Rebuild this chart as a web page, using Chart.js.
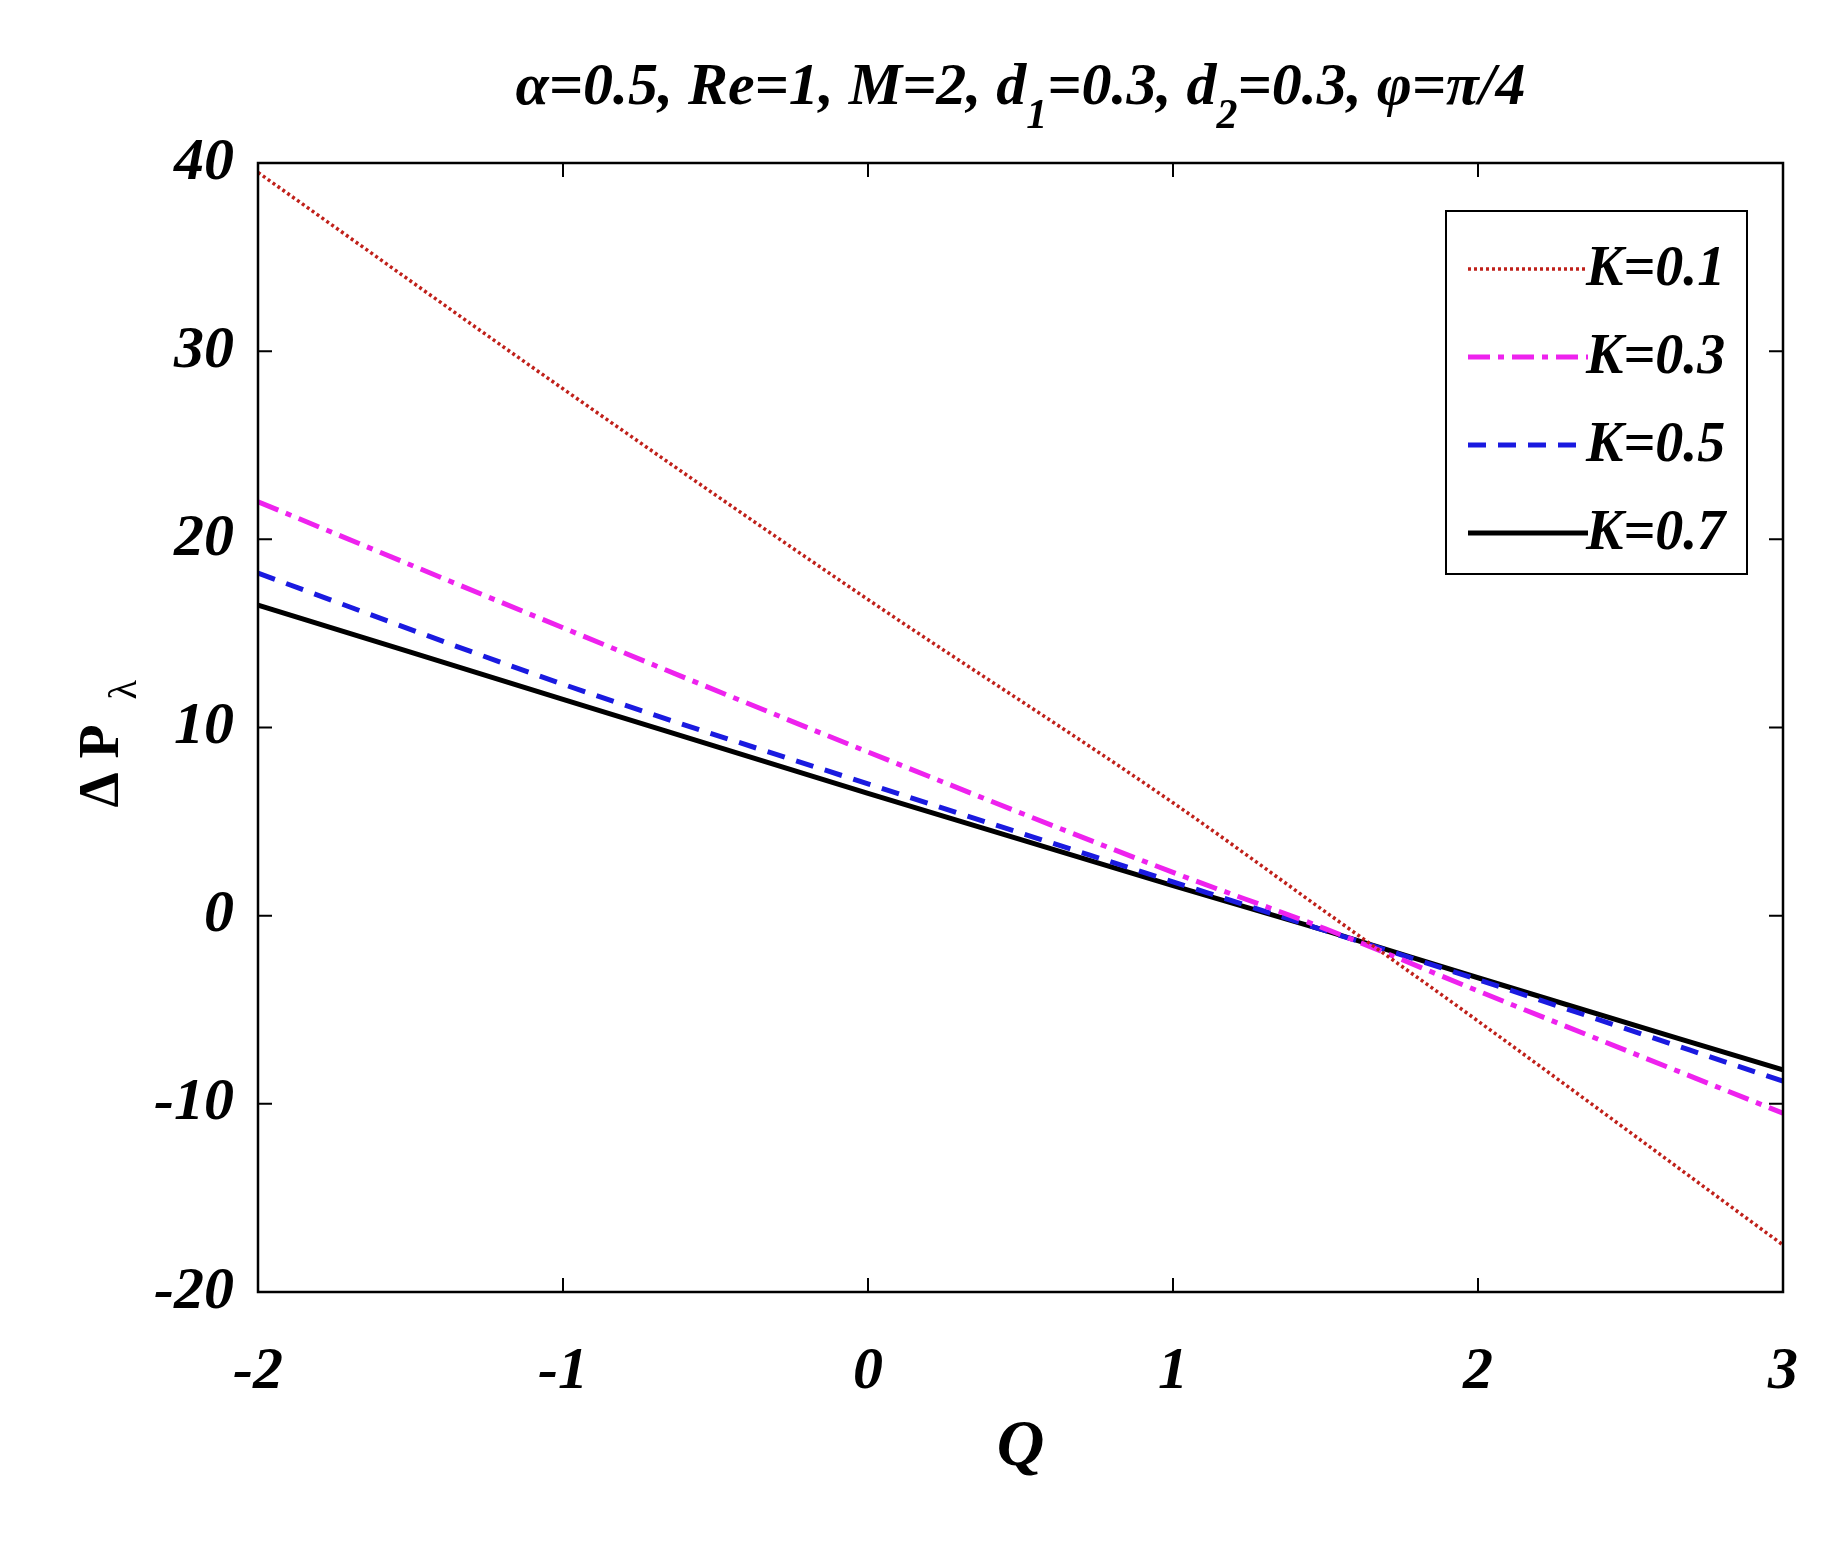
<!DOCTYPE html>
<html><head><meta charset="utf-8">
<script src="https://cdn.jsdelivr.net/npm/chart.js@4.4.1/dist/chart.umd.min.js"></script>
<style>html,body{margin:0;padding:0;background:#fff}#wrap{width:1834px;height:1541px}</style>
</head><body><div id="wrap"><canvas id="c"></canvas></div>
<script>
// Data
const qValues = [-2, -1, 0, 1, 1.5, 2, 3];
const seriesK01 = [39.5, 28, 16.8, 6.0, 0.2, -5.6, -17.5];
const seriesK03 = [22, 15.3, 8.7, 2.3, -0.7, -4, -10.5];
const seriesK05 = [18.2, 12.3, 7, 1.8, -0.8, -3.4, -8.8];
const seriesK07 = [16.5, 11.5, 6.5, 1.6, -0.8, -3.3, -8.2];
const labels = ['K=0.1', 'K=0.3', 'K=0.5', 'K=0.7'];
const colors = ['#c0201a', '#ee22ee', '#1a1ae0', '#000000'];
const dashes = [[3, 3], [22, 8, 6, 8], [18, 12], []];
const widths = [3.5, 5, 5, 5];
const xTicks = [-2, -1, 0, 1, 2, 3];
const yTicks = [-20, -10, 0, 10, 20, 30, 40];

const FONT = '"Liberation Serif", "DejaVu Serif", serif';
const allSeries = [seriesK01, seriesK03, seriesK05, seriesK07];

const boxPlugin = {
  id: 'box',
  afterDraw(chart) {
    const {ctx, chartArea: a, scales: {x, y}} = chart;
    ctx.save();
    ctx.strokeStyle = '#000'; ctx.lineWidth = 2.5;
    ctx.strokeRect(a.left, a.top, a.right - a.left, a.bottom - a.top);
    ctx.lineWidth = 2;
    xTicks.forEach(v => {
      const px = x.getPixelForValue(v);
      ctx.beginPath(); ctx.moveTo(px, a.bottom); ctx.lineTo(px, a.bottom - 14);
      ctx.moveTo(px, a.top); ctx.lineTo(px, a.top + 14); ctx.stroke();
    });
    yTicks.forEach(v => {
      const py = y.getPixelForValue(v);
      ctx.beginPath(); ctx.moveTo(a.left, py); ctx.lineTo(a.left + 14, py);
      ctx.moveTo(a.right, py); ctx.lineTo(a.right - 14, py); ctx.stroke();
    });

    // title with subscripts
    ctx.fillStyle = '#000'; ctx.textBaseline = 'alphabetic';
    const parts = [['α=0.5, Re=1, M=2, d', 0], ['1', 1], ['=0.3, d', 0], ['2', 1], ['=0.3, φ=π/4', 0]];
    const mainF = 'italic bold 60px ' + FONT, subF = 'italic bold 42px ' + FONT;
    let total = 0;
    parts.forEach(p => { ctx.font = p[1] ? subF : mainF; total += ctx.measureText(p[0]).width; });
    let tx = (a.left + a.right) / 2 - total / 2;
    parts.forEach(p => {
      ctx.font = p[1] ? subF : mainF;
      ctx.fillText(p[0], tx, p[1] ? 128 : 104);
      tx += ctx.measureText(p[0]).width;
    });

    // y axis title
    ctx.save();
    ctx.translate(118, (a.top + a.bottom) / 2);
    ctx.rotate(-Math.PI / 2);
    ctx.font = 'bold 56px ' + FONT;
    ctx.textAlign = 'left';
    ctx.fillText('Δ P', -80, 0);
    ctx.font = '40px ' + FONT;
    ctx.fillText('λ', 28, 18);
    ctx.restore();

    // legend
    const lx = 1446, ly = 211, lw = 301, lh = 363;
    ctx.fillStyle = '#fff'; ctx.fillRect(lx, ly, lw, lh);
    ctx.strokeStyle = '#000'; ctx.lineWidth = 2; ctx.strokeRect(lx, ly, lw, lh);
    labels.forEach((lab, i) => {
      const yy = ly + 58 + i * 88;
      ctx.beginPath(); ctx.strokeStyle = colors[i]; ctx.lineWidth = widths[i];
      ctx.setLineDash(dashes[i]);
      ctx.moveTo(lx + 22, yy); ctx.lineTo(lx + 142, yy); ctx.stroke();
      ctx.setLineDash([]);
      ctx.fillStyle = '#000'; ctx.font = 'italic bold 56px ' + FONT;
      ctx.textBaseline = 'middle';
      ctx.fillText(lab, lx + 140, yy + 2);
    });
    ctx.restore();
  }
};

new Chart(document.getElementById('c'), {
  type: 'line',
  data: {
    datasets: labels.map((lab, i) => ({
      label: lab,
      data: qValues.map((q, j) => ({x: q, y: allSeries[i][j]})),
      borderColor: colors[i], borderDash: dashes[i], borderWidth: widths[i],
      pointRadius: 0, cubicInterpolationMode: 'monotone', fill: false
    }))
  },
  options: {
    responsive: true, maintainAspectRatio: false, animation: false,
    layout: {padding: {left: 58, right: 49, top: 163, bottom: 49}},
    plugins: {legend: {display: false}, tooltip: {enabled: false}},
    scales: {
      x: {
        type: 'linear', min: -2, max: 3,
        afterFit: s => { s.height = 200; },
        afterBuildTicks: s => { s.ticks = xTicks.map(v => ({value: v})); },
        grid: {display: false}, border: {display: false},
        ticks: {color: '#000', padding: 36, font: {family: FONT, size: 60, style: 'italic', weight: 'bold'}},
        title: {display: true, text: 'Q', color: '#000', padding: {top: 14}, font: {family: FONT, size: 66, style: 'italic', weight: 'bold'}}
      },
      y: {
        min: -20, max: 40,
        afterFit: s => { s.width = 200; },
        afterBuildTicks: s => { s.ticks = yTicks.map(v => ({value: v})); },
        grid: {display: false}, border: {display: false},
        ticks: {color: '#000', padding: 16, font: {family: FONT, size: 60, style: 'italic', weight: 'bold'}}
      }
    }
  },
  plugins: [boxPlugin]
});
</script></body></html>
